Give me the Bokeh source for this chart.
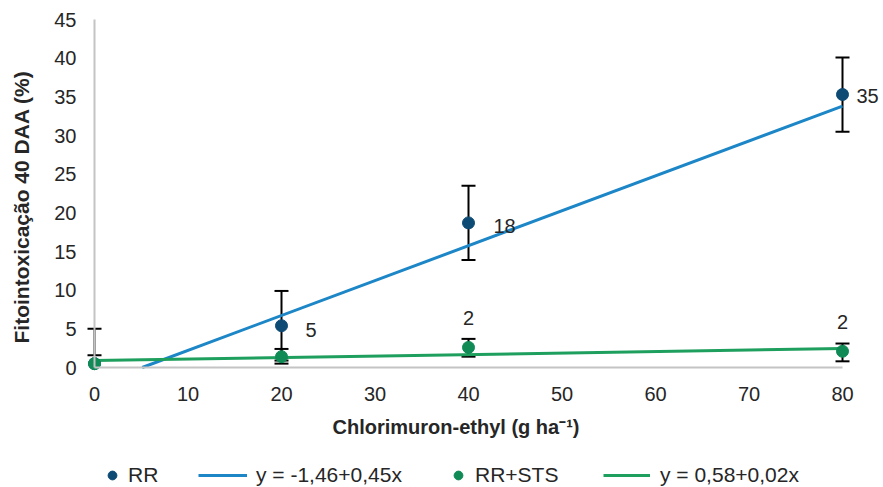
import math
from bokeh.plotting import figure
from bokeh.models import (ColumnDataSource, Whisker, TeeHead, Legend, LegendItem,
                          Label, Range1d, FixedTicker)
from bokeh.embed import file_html
from bokeh.resources import INLINE
from bokeh.core.properties import value

# ---------------- data ----------------
dose = [0, 20, 40, 80]

rr_mean = [0.5, 5.4, 18.7, 35.3]
rr_lower = [1.6, 0.9, 13.9, 30.5]
rr_upper = [5.0, 9.9, 23.5, 40.1]

sts_mean = [0.5, 1.4, 2.6, 2.1]
sts_lower = [None, 0.5, 1.4, 0.8]   # no visible error bar at dose 0
sts_upper = [None, 2.4, 3.7, 3.1]

# fitted trend lines as drawn (end points)
rr_trend_x = [5.1, 80]
rr_trend_y = [0.0, 33.8]
sts_trend_x = [0, 80]
sts_trend_y = [0.9, 2.45]

# data labels
rr_label_x = [20, 40, 80]
rr_label_y = [5.4, 18.7, 35.3]
rr_labels = ["5", "18", "35"]
sts_label_x = [40, 80]
sts_label_y = [2.6, 2.1]
sts_labels = ["2", "2"]

x_ticks = [0, 10, 20, 30, 40, 50, 60, 70, 80]
y_ticks = [0, 5, 10, 15, 20, 25, 30, 35, 40, 45]

legend_labels = ["RR", "y = -1,46+0,45x", "RR+STS", "y = 0,58+0,02x"]
x_title = "Chlorimuron-ethyl (g ha\u207b\u00b9)"
y_title = "Fitointoxicação 40 DAA (%)"

# ---------------- styles ----------------
C_RR_DOT = "#0e4b74"
C_RR_LINE = "#1c86c7"
C_STS_DOT = "#108b56"
C_STS_LINE = "#1f9f5e"
AXIS_GREY = "#c4c4c4"
TXT = "#262626"
FONT = "Liberation Sans"

W, H = 883, 487
X0_PX, X80_PX = 94.0, 842.0     # pixel positions of x = 0 and x = 80
Y0_PX, Y45_PX = 367.0, 19.0     # pixel positions of y = 0 and y = 45
sx = (X80_PX - X0_PX) / 80.0
sy = (Y0_PX - Y45_PX) / 45.0

p = figure(width=W, height=H, output_backend="svg", toolbar_location=None,
           x_range=Range1d(-X0_PX / sx, 80 + (W - X80_PX) / sx),
           y_range=Range1d(-(H - Y0_PX) / sy, 45 + Y45_PX / sy),
           min_border=0, min_border_left=0, min_border_right=0,
           min_border_top=0, min_border_bottom=0)
p.outline_line_color = None
p.grid.visible = False
p.background_fill_color = "white"
p.border_fill_color = "white"

xa, ya = p.xaxis[0], p.yaxis[0]
xa.fixed_location = 0
ya.fixed_location = 0
xa.bounds = (0, 80)
ya.bounds = (0, 45)
for ax in (xa, ya):
    ax.axis_line_color = AXIS_GREY
    ax.axis_line_width = 2
    ax.major_tick_in = 0
    ax.major_tick_out = 0
    ax.minor_tick_in = 0
    ax.minor_tick_out = 0
    ax.major_label_text_font = FONT
    ax.major_label_text_font_size = "20px"
    ax.major_label_text_color = TXT

xa.ticker = FixedTicker(ticks=x_ticks)
ya.ticker = FixedTicker(ticks=y_ticks)
xa.major_label_standoff = 19
ya.major_label_standoff = 18

# trend lines
rr_line = p.line(rr_trend_x, rr_trend_y, line_color=C_RR_LINE, line_width=3)
sts_line = p.line(sts_trend_x, sts_trend_y, line_color=C_STS_LINE, line_width=3)

# error bars
rr_src = ColumnDataSource(dict(x=dose, y=rr_mean))
sts_src = ColumnDataSource(dict(x=dose, y=sts_mean))
rr_err = ColumnDataSource(dict(x=dose, lo=rr_lower, up=rr_upper))
keep = [i for i in range(len(dose)) if sts_lower[i] is not None]
sts_err = ColumnDataSource(dict(x=[dose[i] for i in keep],
                                lo=[sts_lower[i] for i in keep],
                                up=[sts_upper[i] for i in keep]))
for src in (rr_err, sts_err):
    w = Whisker(source=src, base="x", lower="lo", upper="up",
                line_color="black", line_width=2, level="underlay",
                lower_head=TeeHead(size=14, line_width=2, line_color="black"),
                upper_head=TeeHead(size=14, line_width=2, line_color="black"))
    p.add_layout(w)

# points
rr_dots = p.scatter("x", "y", source=rr_src, size=12, fill_color=C_RR_DOT, line_color=C_RR_DOT)
sts_dots = p.scatter("x", "y", source=sts_src, size=12, fill_color=C_STS_DOT, line_color=C_STS_DOT)

# data labels
rr_lab_src = ColumnDataSource(dict(x=rr_label_x, y=rr_label_y, t=rr_labels,
                                   dx=[24, 25, 14], dy=[4, 3, 1]))
p.text("x", "y", text="t", source=rr_lab_src, x_offset="dx", y_offset="dy",
       text_align="left", text_baseline="middle", text_font=value(FONT),
       text_font_size="20px", text_color=TXT)
sts_lab_src = ColumnDataSource(dict(x=sts_label_x, y=sts_label_y, t=sts_labels))
p.text("x", "y", text="t", source=sts_lab_src, y_offset=-29,
       text_align="center", text_baseline="middle", text_font=value(FONT),
       text_font_size="20px", text_color=TXT)

# axis titles (screen units from bottom-left of the page)
p.add_layout(Label(x=332, y=H - 426, x_units="screen", y_units="screen", text=x_title,
                   text_font=FONT, text_font_size="20px", text_font_style="bold",
                   text_align="left", text_baseline="middle", text_color=TXT))
p.add_layout(Label(x=21, y=H - 343, x_units="screen", y_units="screen", text=y_title,
                   angle=math.pi / 2, text_font=FONT, text_font_size="21px",
                   text_font_style="bold", text_align="left", text_baseline="middle",
                   text_color=TXT))

# legend (four single-item legends in a row)
leg_specs = [
    (legend_labels[0], rr_dots, 101, 22, 5),
    (legend_labels[1], rr_line, 198, 49, 9),
    (legend_labels[2], sts_dots, 447, 22, 6),
    (legend_labels[3], sts_line, 603, 47, 10),
]
for lab, r, lx, gw, so in leg_specs:
    lg = Legend(items=[LegendItem(label=lab, renderers=[r])], location=(lx, 0),
                orientation="horizontal", padding=0, margin=0, spacing=0,
                glyph_width=gw, glyph_height=22, label_height=22, label_standoff=so,
                border_line_color=None, background_fill_alpha=0,
                label_text_font=FONT, label_text_font_size="21px",
                label_text_color=TXT)
    p.add_layout(lg)

open("out.html", "w").write(file_html(p, INLINE))
